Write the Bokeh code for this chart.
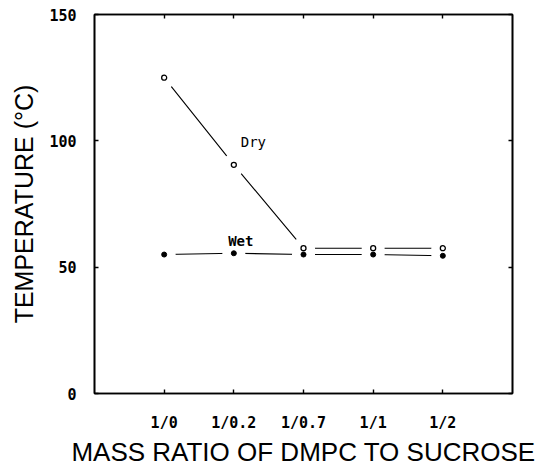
from bokeh.plotting import figure
from bokeh.models import Range1d, LinearAxis, FixedTicker, Label, ColumnDataSource
from bokeh.embed import file_html
from bokeh.resources import INLINE

# ---- data ----
ratios = ["1/0", "1/0.2", "1/0.7", "1/1", "1/2"]
positions = [1, 2, 3, 4, 5]
dry = [125, 90.5, 57.5, 57.5, 57.5]
wet = [55, 55.5, 55, 55, 54.5]
y_ticks = [0, 50, 100, 150]

src = ColumnDataSource(dict(x=positions, dry=dry, wet=wet))

p = figure(width=537, height=469, x_range=Range1d(0, 6), y_range=Range1d(0, 150),
           output_backend="svg", toolbar_location=None,
           min_border_left=94, min_border_right=25, min_border_top=14, min_border_bottom=74)
p.background_fill_color = "white"
p.border_fill_color = "white"
p.xgrid.visible = False
p.ygrid.visible = False
p.outline_line_color = "black"
p.outline_line_width = 1.6

tick_font = "DejaVu Sans Mono"
title_font = "Liberation Sans"

# bottom axis
xa = p.xaxis[0]
xa.ticker = FixedTicker(ticks=positions)
xa.major_label_overrides = {pos: lab for pos, lab in zip(positions, ratios)}
xa.major_tick_in = 4
xa.major_tick_out = 0
xa.minor_tick_line_color = None
xa.axis_line_width = 1.6
xa.major_tick_line_width = 1.4
xa.major_label_standoff = 20
xa.major_label_text_font = tick_font
xa.major_label_text_font_style = "bold"
xa.major_label_text_font_size = "15px"
xa.major_label_text_color = "black"
xa.axis_label = "MASS RATIO OF DMPC TO SUCROSE"
xa.axis_label_text_font = title_font
xa.axis_label_text_font_style = "normal"
xa.axis_label_text_font_size = "26px"
xa.axis_label_text_color = "black"
xa.axis_label_standoff = 2

# left axis
ya = p.yaxis[0]
ya.ticker = FixedTicker(ticks=y_ticks)
ya.major_tick_in = 4
ya.major_tick_out = 0
ya.minor_tick_line_color = None
ya.axis_line_width = 1.6
ya.major_tick_line_width = 1.4
ya.major_label_standoff = 18
ya.major_label_text_font = tick_font
ya.major_label_text_font_style = "bold"
ya.major_label_text_font_size = "15px"
ya.major_label_text_color = "black"
ya.axis_label = "TEMPERATURE (°C)"
ya.axis_label_text_font = title_font
ya.axis_label_text_font_style = "normal"
ya.axis_label_text_font_size = "25px"
ya.axis_label_text_color = "black"
ya.axis_label_standoff = 8

# top and right axes (ticks only, no labels)
top = LinearAxis(ticker=FixedTicker(ticks=positions), major_tick_in=4, major_tick_out=0,
                 minor_tick_line_color=None,
                 major_label_overrides={pos: "" for pos in positions},
                 axis_line_width=1.6, major_tick_line_width=1.4, major_label_standoff=0)
right = LinearAxis(ticker=FixedTicker(ticks=y_ticks), major_tick_in=4, major_tick_out=0,
                   minor_tick_line_color=None,
                   major_label_overrides={t: "" for t in y_ticks},
                   axis_line_width=1.6, major_tick_line_width=1.4, major_label_standoff=0)
p.add_layout(top, "above")
p.add_layout(right, "right")

# lines
p.line("x", "dry", source=src, line_color="black", line_width=1.1)
p.line("x", "wet", source=src, line_color="black", line_width=1.1)
# gaps around the points
p.scatter("x", "dry", source=src, size=23, fill_color="white", line_color=None)
p.scatter("x", "wet", source=src, size=23, fill_color="white", line_color=None)
# markers
p.scatter("x", "dry", source=src, size=5, fill_color="white", line_color="black", line_width=1.3)
p.scatter("x", "wet", source=src, size=5, fill_color="black", line_color="black")

# series labels
p.add_layout(Label(x=2.28, y=99.6, text="Dry", text_align="center", text_baseline="middle",
                   text_font=tick_font, text_font_size="14px", text_color="black"))
p.add_layout(Label(x=2.10, y=60.5, text="Wet", text_align="center", text_baseline="middle",
                   text_font=tick_font, text_font_style="bold", text_font_size="14px",
                   text_color="black"))

open("out.html", "w").write(file_html(p, INLINE))
